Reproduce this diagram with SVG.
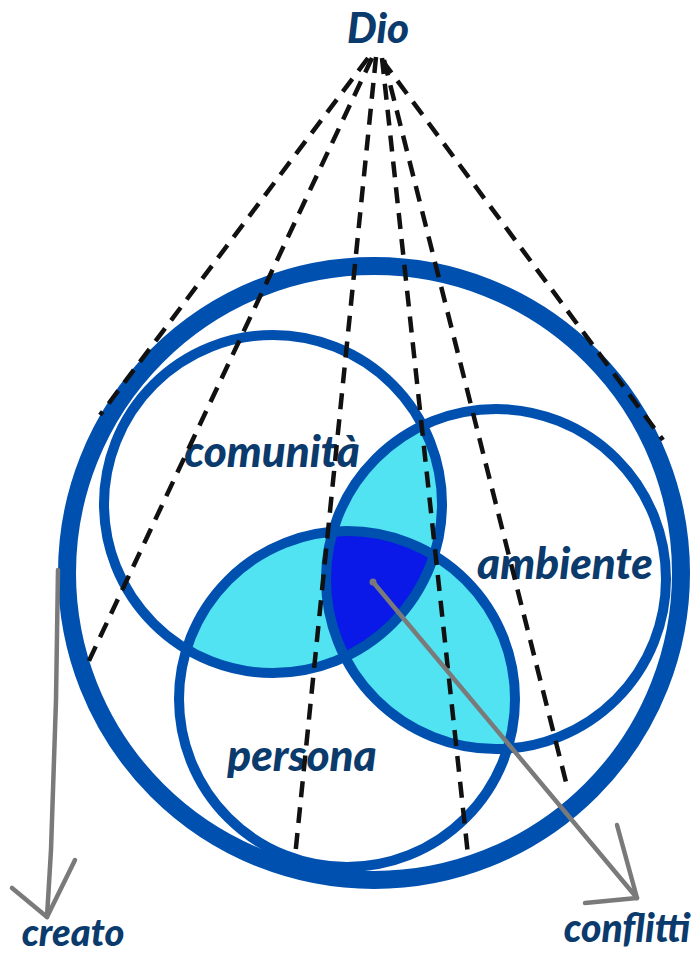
<svg xmlns="http://www.w3.org/2000/svg" width="694" height="953" viewBox="0 0 694 953">
  <style>
    .ring { fill: none; stroke: #0050B0; stroke-width: 10; }
    .outer { fill: none; stroke: #0050B0; stroke-width: 18; }
    .dash { fill: none; stroke: #111; stroke-width: 4.5; stroke-dasharray: 16 10; stroke-linecap: butt; }
    .arrow { fill: none; stroke: #7a7a7a; stroke-width: 4.5; stroke-linecap: round; stroke-linejoin: round; }
    .lbl { font-family: Lato, "Liberation Sans", sans-serif; font-weight: 900; font-style: italic; fill: #0B3A6C; text-anchor: middle; }
  </style>
  <defs>
    <clipPath id="clipC"><circle cx="273" cy="504" r="169"/></clipPath>
    <clipPath id="clipA"><circle cx="496" cy="579" r="170"/></clipPath>
    <clipPath id="clipCA" clip-path="url(#clipC)"><circle cx="496" cy="579" r="170"/></clipPath>
  </defs>
  <rect width="694" height="953" fill="#fff"/>

  <g id="fills">
    <circle cx="496" cy="579" r="170" fill="#52E3F2" clip-path="url(#clipC)"/>
    <circle cx="347" cy="699" r="168" fill="#52E3F2" clip-path="url(#clipC)"/>
    <circle cx="347" cy="699" r="168" fill="#52E3F2" clip-path="url(#clipA)"/>
    <circle cx="347" cy="699" r="168" fill="#0A18E8" clip-path="url(#clipCA)"/>
  </g>

  <g id="creato-circle"><circle class="outer" cx="374" cy="573" r="307"/></g>
  <g id="comunita"><circle class="ring" cx="273" cy="504" r="169"/>
    <text class="lbl" x="272" y="467" font-size="44">comunità</text></g>
  <g id="ambiente"><circle class="ring" cx="496" cy="579" r="170"/>
    <text class="lbl" x="565" y="579" font-size="44">ambiente</text></g>
  <g id="persona"><circle class="ring" cx="347" cy="699" r="168" stroke-width="11"/>
    <text class="lbl" x="302" y="771" font-size="44">persona</text></g>

  <g id="connectors">
    <line class="dash" x1="368" y1="58" x2="100" y2="415"/>
    <line class="dash" x1="372" y1="58" x2="87" y2="665"/>
    <line class="dash" x1="376" y1="57" x2="295" y2="857"/>
    <line class="dash" x1="382" y1="58" x2="468" y2="855"/>
    <line class="dash" x1="384" y1="60" x2="568" y2="790"/>
    <line class="dash" x1="382" y1="60" x2="663" y2="440"/>
    <path class="arrow" d="M58,570 L56,700 L51,850 L47,917"/>
    <path class="arrow" d="M12,888 L47,917 L75,860"/>
    <path class="arrow" d="M373,582 L637,898"/>
    <path class="arrow" d="M617,825 L637,898 L585,903"/>
    <circle cx="373" cy="582" r="3.5" fill="#7a7a7a"/>
  </g>

  <g id="dio"><text class="lbl" x="378" y="43" font-size="42">Dio</text></g>
  <g id="creato"><text class="lbl" x="73" y="946" font-size="38">creato</text></g>
  <g id="conflitti"><text class="lbl" x="627" y="942" font-size="39">conflitti</text></g>
</svg>
